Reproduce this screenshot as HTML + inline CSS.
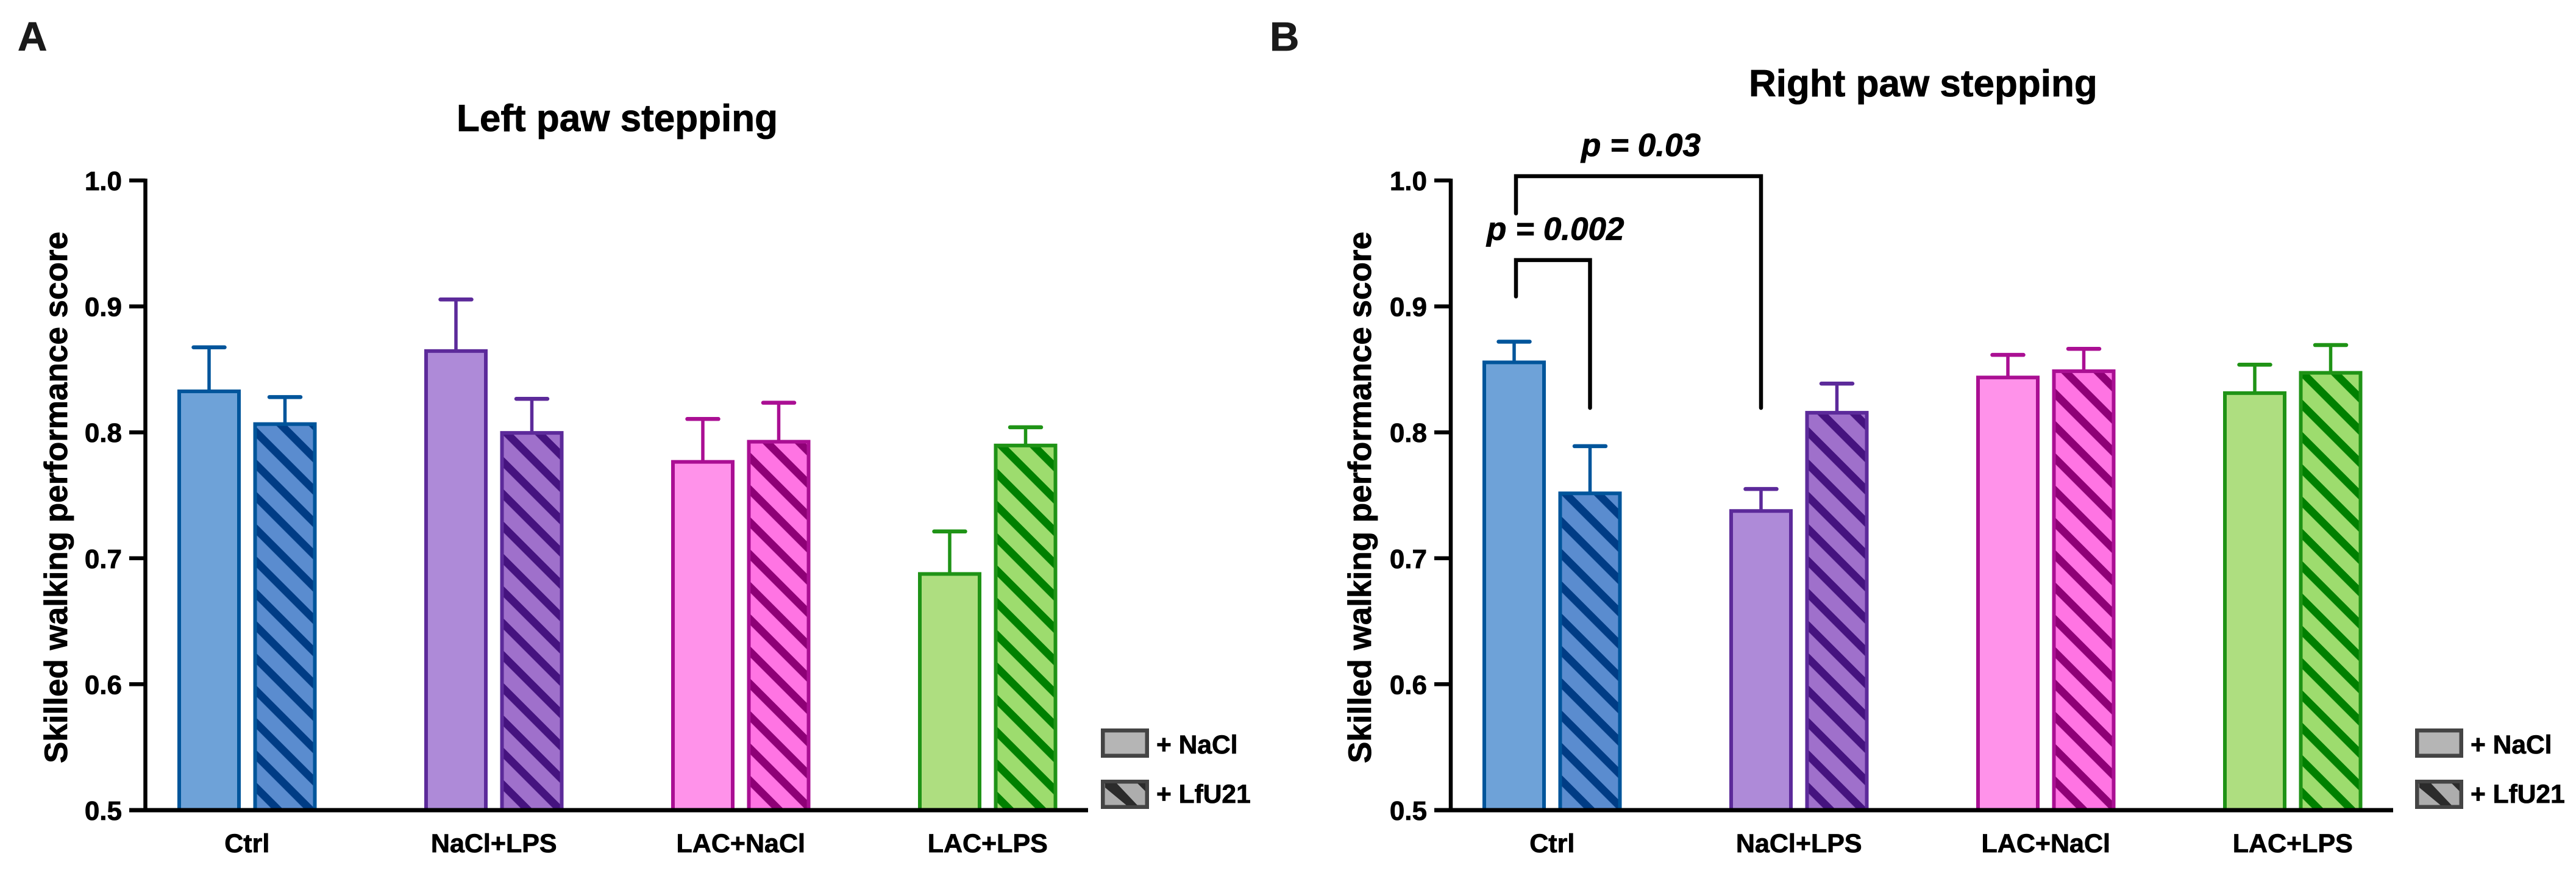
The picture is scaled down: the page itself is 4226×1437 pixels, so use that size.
<!DOCTYPE html>
<html>
<head>
<meta charset="utf-8">
<title>Skilled walking performance</title>
<style>
html,body{margin:0;padding:0;background:#fff;width:4226px;height:1437px;overflow:hidden}
svg{display:block}
text{font-family:"Liberation Sans",Arial,sans-serif;font-weight:700;fill:#000;stroke:#000;stroke-width:0.8px}
</style>
</head>
<body>
<svg id="chart" xmlns="http://www.w3.org/2000/svg" width="4226" height="1437" viewBox="0 0 4226 1437">
  <defs id="defs"></defs>
  <rect x="0" y="0" width="4226" height="1437" fill="#ffffff"/>
  <text x="29" y="83" font-size="67" style="fill:#1a1a1a;stroke:#1a1a1a">A</text>
  <text x="2083" y="83" font-size="67" style="fill:#1a1a1a;stroke:#1a1a1a">B</text>
  <text x="749" y="215" font-size="62">Left paw stepping</text>
  <text x="2869" y="158" font-size="62">Right paw stepping</text>
  <text x="110" y="816" font-size="53" text-anchor="middle" transform="rotate(-90 110 816)">Skilled walking performance score</text>
  <text x="2249" y="816" font-size="53" text-anchor="middle" transform="rotate(-90 2249 816)">Skilled walking performance score</text>

  <g>
    <rect x="1809.25" y="1198.25" width="72.5" height="41.5" fill="#b5b5b5" stroke="#444444" stroke-width="6.5"/>
    <text x="1897" y="1236" font-size="42.5">+ NaCl</text>
    <rect x="1809.25" y="1282.25" width="72.5" height="41.5" fill="#adadad" stroke="#444444" stroke-width="6.5"/>
    <polygon points="1813,1285 1832,1285 1866,1321 1848,1321 1813,1292" fill="#2b2b2b"/>
    <polygon points="1866,1285 1879,1285 1879,1298" fill="#2b2b2b"/>
    <text x="1897" y="1317" font-size="42.5">+ LfU21</text>
  </g>
  <g transform="translate(2156 0)">
    <rect x="1809.25" y="1198.25" width="72.5" height="41.5" fill="#b5b5b5" stroke="#444444" stroke-width="6.5"/>
    <text x="1897" y="1236" font-size="42.5">+ NaCl</text>
    <rect x="1809.25" y="1282.25" width="72.5" height="41.5" fill="#adadad" stroke="#444444" stroke-width="6.5"/>
    <polygon points="1813,1285 1832,1285 1866,1321 1848,1321 1813,1292" fill="#2b2b2b"/>
    <polygon points="1866,1285 1879,1285 1879,1298" fill="#2b2b2b"/>
    <text x="1897" y="1317" font-size="42.5">+ LfU21</text>
  </g>
  <g id="marks"></g>
</svg>
<script>
// ---- Data ----
const categories = ['Ctrl', 'NaCl+LPS', 'LAC+NaCl', 'LAC+LPS'];
const yTicks = [0.5, 0.6, 0.7, 0.8, 0.9, 1.0];
const yTickLabels = ['0.5', '0.6', '0.7', '0.8', '0.9', '1.0'];

const leftNaClMeans = [0.834, 0.866, 0.778, 0.689];
const leftNaClSem = [0.0335, 0.0395, 0.0326, 0.0323];
const leftLfuMeans = [0.808, 0.801, 0.794, 0.791];
const leftLfuSem = [0.020, 0.0256, 0.0295, 0.013];

const rightNaClMeans = [0.857, 0.739, 0.845, 0.8326];
const rightNaClSem = [0.015, 0.016, 0.0165, 0.0211];
const rightLfuMeans = [0.753, 0.817, 0.850, 0.8487];
const rightLfuSem = [0.036, 0.0217, 0.0163, 0.0206];

const bracketLabels = ['p = 0.002', 'p = 0.03'];
const bracketTopValues = [0.9368, 1.0034];
const bracketLeftEndValues = [0.9079, 0.9738];
const bracketRightEndValue = 0.8194;

// ---- Axis functions and styling ----
const NS = 'http://www.w3.org/2000/svg';
const marks = document.getElementById('marks');
const defs = document.getElementById('defs');
const yBase = 1329, pxPerUnit = 2066;
function y(v) { return yBase - (v - 0.5) * pxPerUnit; }
const barW = 104, barStroke = 6;
function barLeft(panelX, group, series) { return panelX + group * 405 + series * 124.5; }
function groupCenter(panelX, group) { return panelX + group * 405 + 114.25; }

const palette = [
  { name: 'blue',   stroke: '#00559b', solid: '#6ea2d8', hatch: '#5a8ccf', stripe: '#003c85' },
  { name: 'purple', stroke: '#5c2a9a', solid: '#ae8ad8', hatch: '#9f70cb', stripe: '#45137f' },
  { name: 'pink',   stroke: '#aa0f93', solid: '#ff92ea', hatch: '#ff74e3', stripe: '#8e0076' },
  { name: 'green',  stroke: '#1f9316', solid: '#aede80', hatch: '#9ddc6e', stripe: '#008000' }
];

function make(tag, attrs, parent) {
  const e = document.createElementNS(NS, tag);
  for (const k in attrs) e.setAttribute(k, attrs[k]);
  (parent || marks).appendChild(e);
  return e;
}

function drawPanel(key, panelX, axisX, axisEnd, tickLeft, naclMeans, naclSem, lfuMeans, lfuSem, stripeOffsets) {
  const g = make('g', {});
  
  

  // bars and error bars
  categories.forEach(function (cat, i) {
    [0, 1].forEach(function (s) {
      const c = palette[i];
      const mean = s === 0 ? naclMeans[i] : lfuMeans[i];
      const sem = s === 0 ? naclSem[i] : lfuSem[i];
      const left = barLeft(panelX, i, s);
      const mid = left + barW / 2;
      const top = y(mean);
      const slug = key + '-' + cat.toLowerCase().replace('+', '-') + (s === 0 ? '-nacl' : '-lfu21');

      const stem = make('line', { x1: mid, x2: mid, y1: y(mean + sem), y2: top + 2, stroke: c.stroke, 'stroke-width': 5.5 }, g);
      
      

      const cap = make('line', { x1: mid - 25.5, x2: mid + 25.5, y1: y(mean + sem), y2: y(mean + sem), stroke: c.stroke, 'stroke-width': 6.5, 'stroke-linecap': 'round' }, g);
      
      

      let fill = c.solid;
      if (s === 1) {
        const pid = 'hatch-' + slug;
        const p = make('pattern', {
          id: pid, patternUnits: 'userSpaceOnUse', width: 37.48, height: 37.48,
          patternTransform: 'translate(' + (left + stripeOffsets[i]) + ' ' + yBase + ') rotate(45) translate(0 -6.35)'
        }, defs);
        make('rect', { x: 0, y: 0, width: 37.48, height: 37.48, fill: c.hatch }, p);
        make('rect', { x: 0, y: 0, width: 37.48, height: 12.7, fill: c.stripe }, p);
        fill = 'url(#' + pid + ')';
      }
      const bar = make('rect', {
        x: left + barStroke / 2, y: top + barStroke / 2,
        width: barW - barStroke, height: yBase - top - barStroke / 2,
        fill: fill, stroke: c.stroke, 'stroke-width': barStroke
      }, g);
      
      
    });

    const label = make('text', { x: groupCenter(panelX, i), y: 1398, 'font-size': 43, 'text-anchor': 'middle' }, g);
    label.textContent = cat;
    
    
  });

  // y axis
  const yLine = make('line', { x1: axisX, x2: axisX, y1: y(1.0) - 3, y2: yBase, stroke: '#000', 'stroke-width': 6.5 }, g);
  
  

  const xLine = make('line', { x1: tickLeft, x2: axisEnd, y1: yBase, y2: yBase, stroke: '#000', 'stroke-width': 7 }, g);
  
  

  yTicks.forEach(function (t, i) {
    const tick = make('line', { x1: tickLeft, x2: axisX, y1: y(t), y2: y(t), stroke: '#000', 'stroke-width': 6.5 }, g);
    
    

    const lab = make('text', { x: tickLeft - 12, y: y(t) + 16, 'font-size': 44, 'text-anchor': 'end' }, g);
    lab.textContent = yTickLabels[i];
    
    
  });
}

drawPanel('left', 291, 238.5, 1785, 212, leftNaClMeans, leftNaClSem, leftLfuMeans, leftLfuSem, [41.5, 46, 0, 27]);
drawPanel('right', 2432, 2380, 3926, 2353, rightNaClMeans, rightNaClSem, rightLfuMeans, rightLfuSem, [1, 42, 52, 34]);

// significance brackets
const rightPanelX = 2432;
const bracketRightBars = [barLeft(rightPanelX, 0, 1) + barW / 2, barLeft(rightPanelX, 1, 0) + barW / 2];
const bracketLeftX = barLeft(rightPanelX, 0, 0) + barW / 2 + 3;
bracketLabels.forEach(function (txt, i) {
  const rx = bracketRightBars[i];
  const topY = y(bracketTopValues[i]);
  const path = make('path', {
    d: 'M' + bracketLeftX + ' ' + y(bracketLeftEndValues[i]) + ' V' + topY + ' H' + rx + ' V' + y(bracketRightEndValue),
    fill: 'none', stroke: '#000', 'stroke-width': 6.5, 'stroke-linecap': 'round', 'stroke-linejoin': 'miter'
  });
  
  

  const t = make('text', { x: (bracketLeftX + rx) / 2 + 4, y: topY - 33, 'font-size': 53, 'text-anchor': 'middle', 'font-style': 'italic' });
  t.textContent = txt;
  
  
});
</script>
</body>
</html>
